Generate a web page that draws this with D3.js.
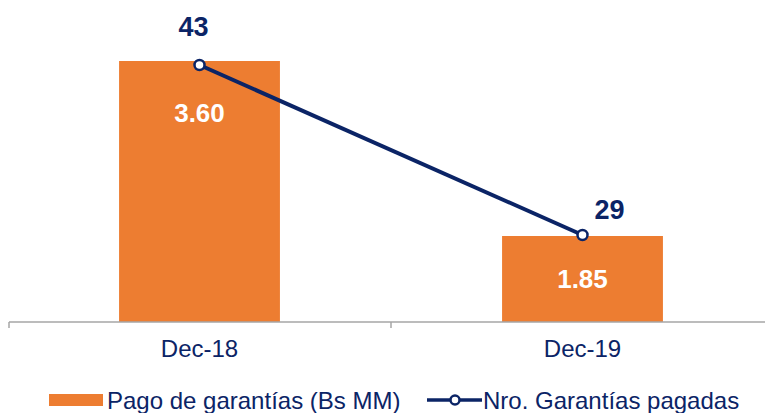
<!DOCTYPE html>
<html>
<head>
<meta charset="utf-8">
<script src="https://cdn.jsdelivr.net/npm/d3@7"></script>
<style>
    body { margin: 0; background: #fff; }
    text { font-family: "Liberation Sans", Arial, sans-serif; }
</style>
</head>
<body>
<script>
let categories = ["Dec-18", "Dec-19"];
let pagos = [3.60, 1.85];
let garantias = [43, 29];
let pagoLabels = ["3.60", "1.85"];
let legendLabels = ["Pago de garantías (Bs MM)", "Nro. Garantías pagadas"];

let width = 765,
    height = 413,
    baseY = 322,
    orange = "#ED7D31",
    navy = "#0B2466";

let svg = d3.select("body").append("svg")
    .attr("width", width)
    .attr("height", height);

// eje x de bandas
let x = d3.scaleBand()
    .domain(categories)
    .range([8, 774]);

let barW = x.bandwidth() * 0.42;
let cx = (d, i) => x(categories[i]) + x.bandwidth() / 2;

// eje y de barras (no empieza en cero, como el original)
let y = d3.scaleLinear()
    .domain([1, 4])
    .range([321, 21]);

// eje secundario para la linea
let y2 = d3.scaleLinear()
    .domain([29, 43])
    .range([235, 65]);

// barras
svg.selectAll("rect.bar")
    .data(pagos)
    .enter()
    .append("rect")
    .attr("class", "bar")
    .attr("x", (d, i) => cx(d, i) - barW / 2)
    .attr("y", d => y(d))
    .attr("width", barW)
    .attr("height", d => baseY - y(d))
    .attr("fill", orange);

// etiquetas de barras
svg.selectAll("text.barlabel")
    .data(pagos)
    .enter()
    .append("text")
    .attr("class", "barlabel")
    .attr("x", cx)
    .attr("y", (d, i) => y(d) + (i == 0 ? 61 : 52))
    .attr("text-anchor", "middle")
    .attr("fill", "#fff")
    .attr("font-weight", "bold")
    .attr("font-size", 26)
    .text((d, i) => pagoLabels[i]);

// eje x
let axis = svg.append("g");
axis.append("line")
    .attr("x1", 9).attr("x2", width)
    .attr("y1", baseY).attr("y2", baseY)
    .attr("stroke", "#A6A6A6").attr("stroke-width", 1.5);

let tickXs = [x.range()[0] + 1, x(categories[1])];
axis.selectAll("line.tick")
    .data(tickXs)
    .enter()
    .append("line")
    .attr("class", "tick")
    .attr("x1", d => d).attr("x2", d => d)
    .attr("y1", baseY).attr("y2", baseY + 6)
    .attr("stroke", "#A6A6A6").attr("stroke-width", 1.5);

axis.selectAll("text.cat")
    .data(categories)
    .enter()
    .append("text")
    .attr("class", "cat")
    .attr("x", d => x(d) + x.bandwidth() / 2)
    .attr("y", 357)
    .attr("text-anchor", "middle")
    .attr("fill", navy)
    .attr("font-size", 24)
    .text(d => d);

// linea
let line = d3.line()
    .x((d, i) => cx(d, i))
    .y(d => y2(d));

svg.append("path")
    .datum(garantias)
    .attr("d", line)
    .attr("fill", "none")
    .attr("stroke", navy)
    .attr("stroke-width", 4);

svg.selectAll("circle.pt")
    .data(garantias)
    .enter()
    .append("circle")
    .attr("class", "pt")
    .attr("cx", cx)
    .attr("cy", d => y2(d))
    .attr("r", 5)
    .attr("fill", "#fff")
    .attr("stroke", navy)
    .attr("stroke-width", 2.5);

svg.selectAll("text.ptlabel")
    .data(garantias)
    .enter()
    .append("text")
    .attr("class", "ptlabel")
    .attr("x", (d, i) => cx(d, i) + (i == 0 ? -6 : 27))
    .attr("y", (d, i) => y2(d) - (i == 0 ? 29 : 16))
    .attr("text-anchor", "middle")
    .attr("fill", navy)
    .attr("font-weight", "bold")
    .attr("font-size", 27)
    .text(d => d);

// leyenda
let legend = svg.append("g");
legend.append("rect")
    .attr("x", 49).attr("y", 394)
    .attr("width", 54).attr("height", 12)
    .attr("fill", orange);
legend.append("text")
    .attr("x", 107).attr("y", 409)
    .attr("fill", navy)
    .attr("font-size", 24)
    .text(legendLabels[0]);

legend.append("line")
    .attr("x1", 427).attr("x2", 482)
    .attr("y1", 400).attr("y2", 400)
    .attr("stroke", navy).attr("stroke-width", 3.5);
legend.append("circle")
    .attr("cx", 455).attr("cy", 400).attr("r", 4.5)
    .attr("fill", "#fff")
    .attr("stroke", navy).attr("stroke-width", 2.5);
legend.append("text")
    .attr("x", 483).attr("y", 409)
    .attr("fill", navy)
    .attr("font-size", 24)
    .text(legendLabels[1]);
</script>
</body>
</html>
